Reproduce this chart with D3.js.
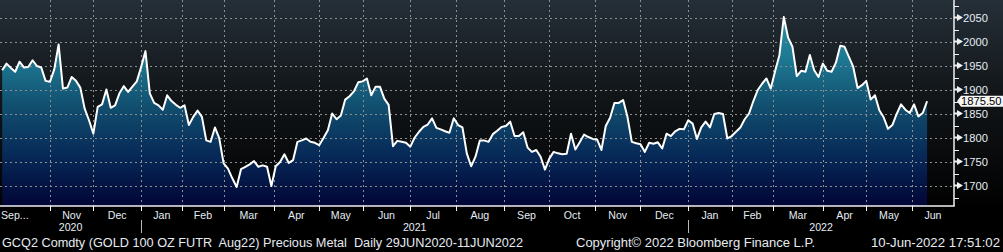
<!DOCTYPE html>
<html><head><meta charset="utf-8">
<script src="https://cdn.jsdelivr.net/npm/d3@7"></script>
<style>html,body{margin:0;padding:0;background:#000;overflow:hidden}svg{display:block}text{white-space:pre}</style>
</head><body><svg id="c" width="1003" height="252"></svg>
<script>
// ---------- data ----------
const axisStartDate = "2020-09-30";     // first trading day at the left edge
const firstSampleDate = "2020-10-01";   // first price sample
const sampleStepDays = 2;               // trading days between samples
const holidays = ["2020-11-26","2020-12-25","2021-01-01","2021-01-18","2021-02-15","2021-04-02",
  "2021-05-31","2021-07-05","2021-09-06","2021-11-25","2021-12-24","2022-01-17","2022-02-21",
  "2022-04-15","2022-05-30","2022-06-20","2022-07-04"];
const prices = [
 1940,1954,1945,1937,1958,1946,1947,1961,1949,1946,1918,1916,1942,1994,1902,1904,1926,1918,1904,1860,
 1836,1808,1864,1869,1900,1862,1867,1892,1907,1895,1906,1917,1947,1980,1892,1872,1867,1858,1888,1876,
 1868,1862,1867,1826,
 1843,1856,1843,1794,1791,1821,1798,1746,1735,1715,1697,1734,1739,1744,1751,1739,1742,1739,1699,1740,
 1749,1765,1747,1753,1791,1794,1798,1791,1789,1784,1799,1815,1850,1838,1846,1879,1886,1896,1915,1917,
 1923,1888,1906,1906,
 1881,1868,1782,1793,1791,1789,1781,1800,1812,1822,1827,1840,1820,1817,1813,1810,1840,1826,1821,1767,
 1740,1760,1794,1794,1791,1807,1814,1822,1824,1833,1803,1803,1811,1779,1770,1774,1760,1733,1756,1770,
 1767,1765,1766,1808,
 1775,1790,1806,1801,1797,1796,1774,1824,1841,1872,1872,1878,1843,1791,1788,1786,1770,1789,1787,1790,
 1777,1808,1803,1813,1818,1817,1836,1829,1797,1821,1833,1821,1849,1851,1849,1798,1803,1812,1821,1838,
 1850,1876,1899,
 1912,1923,1902,1938,1972,2051,2008,1989,1928,1939,1937,1972,1940,1926,1954,1939,1937,1956,1991,1989,
 1968,1947,1903,1909,1918,1879,1888,1857,1842,1818,1826,1849,1869,1858,1851,1869,1844,1851,1875.5
];
const yTickValues = [1700,1750,1800,1850,1900,1950,2000,2050];
const yMinorValues = [1675,1725,1775,1825,1875,1925,1975,2025,2075];
const firstMonthFrom = "2020-11-01";
const lastMonthTo = "2022-07-01";
const leftEdgeLabel = "Sep...";
const footerLeft = "GCQ2 Comdty (GOLD 100 OZ FUTR  Aug22) Precious Metal  Daily 29JUN2020-11JUN2022";
const footerMid = "Copyright\u00A9 2022 Bloomberg Finance L.P.";
const footerRight = "10-Jun-2022 17:51:02";

// ---------- layout ----------
const W = 1003, H = 252;
const plot = {left: 0, right: 954, top: 0, bottom: 206};
const svg = d3.select("#c");
const fmt = d3.utcFormat("%Y-%m-%d");
const hol = new Set(holidays);
const tradingDays = d3.utcDay.range(new Date(axisStartDate + "T00:00:00Z"), new Date("2022-08-01T00:00:00Z"))
  .filter(d => d.getUTCDay() % 6 !== 0 && !hol.has(fmt(d)));
const dayIndex = new Map(tradingDays.map((d, i) => [fmt(d), i]));
const i0 = dayIndex.get(firstSampleDate);
const data = prices.map((v, k) => ({date: tradingDays[i0 + k * sampleStepDays], idx: i0 + k * sampleStepDays, v}));

const x = d3.scaleLinear().domain([0, 439.4]).range([plot.left, plot.right]);
const y = d3.scaleLinear().domain([1657.3, 2086.5]).range([plot.bottom, plot.top]);

const defs = svg.append("defs");
const bg = defs.append("linearGradient").attr("id", "bg").attr("x1", 0).attr("y1", 0).attr("x2", 0).attr("y2", 1);
[[0, "#252f38"], [0.45, "#121619"], [1, "#010101"]].forEach(([o, c]) => bg.append("stop").attr("offset", o).attr("stop-color", c));
const ar = defs.append("linearGradient").attr("id", "ar").attr("gradientUnits", "userSpaceOnUse")
  .attr("x1", 0).attr("y1", plot.top).attr("x2", 0).attr("y2", plot.bottom);
[[0, "#3199ac"], [0.3, "#1d7690"], [0.52, "#114e6e"], [0.75, "#072a58"], [1, "#010536"]]
  .forEach(([o, c]) => ar.append("stop").attr("offset", o).attr("stop-color", c));

svg.append("rect").attr("width", W).attr("height", H).attr("fill", "#000");
svg.append("rect").attr("x", 0).attr("y", 0).attr("width", W).attr("height", plot.bottom).attr("fill", "url(#bg)");

// area
svg.append("path").datum(data)
  .attr("d", d3.area().x(d => x(d.idx)).y0(plot.bottom).y1(d => y(d.v)))
  .attr("fill", "url(#ar)");

// month ticks
const months = d3.utcMonth.range(new Date(firstMonthFrom + "T00:00:00Z"), new Date(lastMonthTo + "T00:00:00Z"));
const mt = months.map(m => ({m, i: tradingDays.findIndex(d => d >= m)}));
mt.forEach(t => t.x = x(t.i));

// grid
const grid = svg.append("g").attr("stroke", "#8c8f92").attr("stroke-width", 1).attr("stroke-dasharray", "2,3");
yTickValues.forEach(v => grid.append("line").attr("x1", plot.left).attr("x2", plot.right)
  .attr("y1", Math.round(y(v)) + 0.5).attr("y2", Math.round(y(v)) + 0.5));
mt.forEach(t => grid.append("line").attr("x1", Math.round(t.x) + 0.5).attr("x2", Math.round(t.x) + 0.5)
  .attr("y1", plot.top).attr("y2", plot.bottom));

// line
svg.append("path").datum(data)
  .attr("d", d3.line().x(d => x(d.idx)).y(d => y(d.v)))
  .attr("fill", "none").attr("stroke", "#ffffff").attr("stroke-width", 2).attr("stroke-linejoin", "round");

// axes lines
const ax = svg.append("g").attr("stroke", "#f0f0f0").attr("stroke-width", 1.5);
ax.append("line").attr("x1", plot.left).attr("x2", plot.right + 0.75).attr("y1", plot.bottom).attr("y2", plot.bottom);
ax.append("line").attr("x1", plot.right).attr("x2", plot.right).attr("y1", plot.top).attr("y2", plot.bottom);

// y ticks & labels
const labCol = "#e4ecf4";
yMinorValues.forEach(v => svg.append("line").attr("x1", plot.right).attr("x2", plot.right + 5)
  .attr("y1", Math.round(y(v)) + 0.5).attr("y2", Math.round(y(v)) + 0.5).attr("stroke", "#f0f0f0"));
yTickValues.forEach(v => {
  const yy = y(v);
  svg.append("path").attr("d", `M${plot.right},${yy - 1}L${plot.right + 3},${yy - 1}L${plot.right + 3},${yy - 3.5}L${plot.right + 9},${yy}L${plot.right + 3},${yy + 3.5}L${plot.right + 3},${yy + 1}L${plot.right},${yy + 1}Z`)
    .attr("fill", "#f0f0f0");
  svg.append("text").attr("x", plot.right + 9).attr("y", yy + 4)
    .attr("font-family", "Liberation Sans, Arial, sans-serif").attr("font-size", 11.2)
    .attr("fill", labCol).text(d3.format("d")(v));
});

// last price label
const last = data[data.length - 1];
const ly = y(last.v);
svg.append("path").attr("d", `M${plot.right + 3},${ly}L${plot.right + 7},${ly - 5.5}L${W},${ly - 5.5}L${W},${ly + 5.5}L${plot.right + 7},${ly + 5.5}Z`)
  .attr("fill", "#f7f7f7");
svg.append("text").attr("x", plot.right + 7).attr("y", ly + 4)
  .attr("font-family", "Liberation Sans, Arial, sans-serif").attr("font-size", 11.2)
  .attr("fill", "#000").text(d3.format(".2f")(last.v));

// x ticks and labels
const fontX = {family: "Liberation Sans, Arial, sans-serif", size: 10.6};
mt.forEach(t => svg.append("line").attr("x1", Math.round(t.x) + 0.5).attr("x2", Math.round(t.x) + 0.5)
  .attr("y1", plot.bottom).attr("y2", plot.bottom + 5).attr("stroke", "#f0f0f0"));
mt.forEach((t, j) => {
  const xr = j < mt.length - 1 ? mt[j + 1].x : plot.right;
  svg.append("text").attr("x", (t.x + xr) / 2).attr("y", 218.5).attr("text-anchor", "middle")
    .attr("font-family", fontX.family).attr("font-size", fontX.size).attr("fill", labCol)
    .text(d3.utcFormat("%b")(t.m));
});
svg.append("text").attr("x", 1).attr("y", 218.5)
  .attr("font-family", fontX.family).attr("font-size", fontX.size).attr("fill", labCol).text(leftEdgeLabel);

// year separators & labels
const janTicks = mt.filter(t => t.m.getUTCMonth() === 0);
janTicks.forEach(t => svg.append("line").attr("x1", Math.round(t.x) + 0.5).attr("x2", Math.round(t.x) + 0.5)
  .attr("y1", 220).attr("y2", 233).attr("stroke", "#b8b8b8"));
const yb = [plot.left, ...janTicks.map(t => t.x), plot.right];
const years = [2020, ...janTicks.map(t => t.m.getUTCFullYear())];
years.forEach((yr, j) => svg.append("text").attr("x", (yb[j] + yb[j + 1]) / 2).attr("y", 231)
  .attr("text-anchor", "middle").attr("font-family", fontX.family).attr("font-size", fontX.size)
  .attr("fill", labCol).text(yr));

// footer
const ff = "Liberation Sans, Arial, sans-serif";
[[footerLeft, 2, 521], [footerMid, 576, 239], [footerRight, 871, 129]].forEach(([s, xx, w]) =>
  svg.append("text").attr("x", xx).attr("y", 247).attr("font-family", ff).attr("font-size", 12.5)
    .attr("xml:space", "preserve").style("white-space", "pre")
    .attr("fill", "#e6ebf0").attr("textLength", w).attr("lengthAdjust", "spacingAndGlyphs").text(s));
</script></body></html>
